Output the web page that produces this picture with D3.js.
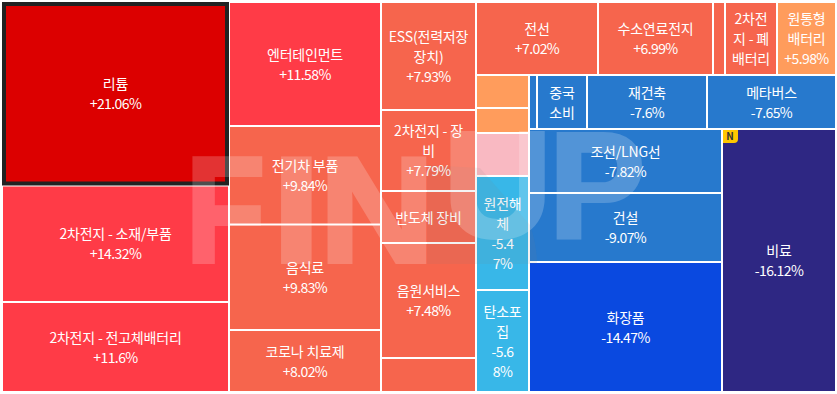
<!DOCTYPE html>
<html>
<head>
<meta charset="utf-8">
<script src="https://cdn.jsdelivr.net/npm/d3@7"></script>
<style>
html,body{margin:0;padding:0;background:#fff;overflow:hidden}
svg{display:block}
text{font-family:"Noto Sans CJK KR","Noto Sans",sans-serif}
</style>
</head>
<body>
<svg id="chart" width="837" height="394"></svg>
<script>
const names = [
  "리튬","2차전지 - 소재/부품","2차전지 - 전고체배터리",
  "엔터테인먼트","전기차 부품","음식료","코로나 치료제",
  "ESS(전력저장 장치)","2차전지 - 장비","반도체 장비","음원서비스","",
  "전선","수소연료전지","","2차전지 - 폐배터리","원통형 배터리",
  "","","","원전해체","탄소포집",
  "","중국소비","재건축","메타버스",
  "조선/LNG선","건설","화장품","비료"
];
const changes = [
  21.06,14.32,11.6,
  11.58,9.84,9.83,8.02,
  7.93,7.79,7.5,7.48,7.4,
  7.02,6.99,6.9,6.2,5.98,
  5.5,5.2,1.2,-5.47,-5.68,
  -7.5,-7.55,-7.6,-7.65,
  -7.82,-9.07,-14.47,-16.12
];
const sizes = [
  41655,26446,20430,
  18848,14972,16036,9424,
  10260,7695,4940,10925,3230,
  8906,8395,876,3796,4307,
  1749,1325,2279,6042,5406,
  432,2700,6480,6966,
  12352,13317,25090,29982
];
const colorBreaks = [-15,-10,-7,-3,3,6,10,15];
const colorRange = ["#2e2783","#0a49e0","#2779cd","#38b7e8","#f9b9c2","#ff9c5c","#f6654d","#ff3b47","#dc0000"];
const highlighted = ["리튬"];
const badged = {"비료":"N"};
const watermarkLetters = ["F","I","N","U","P"];

// nesting: D = side by side, S = stacked; numbers index the arrays above
const nesting = ["D",
  ["S",0,1,2],
  ["S",3,4,5,6],
  ["S",7,8,9,10,11],
  ["S",
    ["D",12,13,14,15,16],
    ["D",
      ["S",17,18,19,20,21],
      ["S",
        ["D",22,23,24,25],
        ["D",["S",26,27,28],29]
      ]
    ]
  ]
];

const toTree = n => typeof n === "number"
  ? {name:names[n],change:changes[n],size:sizes[n]}
  : {dir:n[0],children:n.slice(1).map(toTree)};

const root = d3.hierarchy(toTree(nesting)).sum(d=>d.size||0);
d3.treemap()
  .size([834,390])
  .tile((node,x0,y0,x1,y1)=>
    (node.data.dir==="D"?d3.treemapDice:d3.treemapSlice)(node,x0,y0,x1,y1))(root);

const color = d3.scaleThreshold().domain(colorBreaks).range(colorRange);
const svg = d3.select("#chart");
const plot = svg.append("g").attr("transform","translate(2,2)");
const leaves = root.leaves();

plot.selectAll("rect.cell").data(leaves).join("rect").attr("class","cell")
  .each(function(d){
    const h = highlighted.includes(d.data.name);
    const s = d3.select(this);
    const inset = h ? 2 : 1;
    s.attr("x",d.x0+inset).attr("y",d.y0+inset)
     .attr("width",d.x1-d.x0-2*inset).attr("height",d.y1-d.y0-2*inset)
     .attr("fill",color(d.data.change));
    if(h) s.attr("stroke","#222").attr("stroke-width",4);
  });

// watermark (decorative logo, placed letter by letter)
const wmPlace = [
  {x:185.5,y:262,sx:0.87},
  {x:271.5,y:262,sx:1.19},
  {x:319,  y:262,sx:1.07},
  {x:443.5,y:237,sx:1.0},
  {x:549,  y:237,sx:0.96}
];
svg.append("path").attr("fill","#808080").attr("fill-opacity",0.1)
  .attr("d","M427,165L480,168L530,225Q537,245 537,264L427,264Z");
const wm = svg.append("g").attr("opacity",0.2);
wm.selectAll("text").data(watermarkLetters).join("text")
  .text(d=>d)
  .attr("transform",(d,i)=>`translate(${wmPlace[i].x},${wmPlace[i].y}) scale(${wmPlace[i].sx},1)`)
  .attr("font-size",150).attr("font-weight",700)
  .attr("fill","#fff").attr("stroke","#fff").attr("stroke-width",4)
  .style("font-family",'"Liberation Sans",sans-serif');

// labels
const LH = 20, PAD = 5.9, FS = 14, NAME_LS = -0.2, VALUE_LS = -0.6;
const probe = svg.append("text").attr("font-size",FS).attr("visibility","hidden");
const measure = (s,ls) => { probe.attr("letter-spacing",ls).text(s); return probe.node().getComputedTextLength(); };
function wrap(str, avail, ls){
  // a digit stays with a following percent sign when a line breaks
  const tokens = str.match(/\d%|./gu) || [];
  const lines=[]; let cur="";
  for(const tk of tokens){
    const next = cur+tk;
    if(cur && measure(next,ls)>avail){ lines.push(cur.trimEnd()); cur = tk===" "?"":tk; }
    else cur = next;
  }
  if(cur) lines.push(cur);
  return lines;
}
const fmt = v => (v>0?"+":"")+v+"%";
const g = plot.selectAll("g.label").data(leaves.filter(d=>d.data.name)).join("g").attr("class","label");
g.each(function(d){
  const w = d.x1-d.x0-2, h = d.y1-d.y0;
  const avail = w-2*PAD;
  const nameLines = wrap(d.data.name,avail,NAME_LS).map(t=>({t,ls:NAME_LS}));
  const valueLines = wrap(fmt(d.data.change),avail,VALUE_LS).map(t=>({t,ls:VALUE_LS}));
  let lines = nameLines.concat(valueLines);
  if(lines.length*LH+12>=h) lines = nameLines;
  const cx=(d.x0+d.x1)/2, cy=(d.y0+d.y1)/2;
  d3.select(this).selectAll("text").data(lines).join("text")
    .attr("x",cx).attr("y",(_,i)=>cy+(i-(lines.length-1)/2)*LH)
    .attr("dy","0.4em").attr("text-anchor","middle")
    .attr("font-size",FS).attr("letter-spacing",l=>l.ls)
    .attr("fill","#fff").text(l=>l.t);
});
probe.remove();

// badge
const bw=15,bh=13,br=4;
const badges = plot.selectAll("g.badge").data(leaves.filter(d=>badged[d.data.name])).join("g")
  .attr("class","badge").attr("transform",d=>`translate(${d.x0+1},${d.y0+1})`);
badges.append("path").attr("fill","#ffc800")
  .attr("d",`M0,0H${bw}V${bh-br}Q${bw},${bh} ${bw-br},${bh}H0Z`);
badges.append("text").attr("x",bw/2-0.5).attr("y",bh/2).attr("dy","0.36em")
  .attr("text-anchor","middle").attr("font-size",10).attr("font-weight",700)
  .attr("fill","#333").text(d=>badged[d.data.name]);
</script>
</body>
</html>
